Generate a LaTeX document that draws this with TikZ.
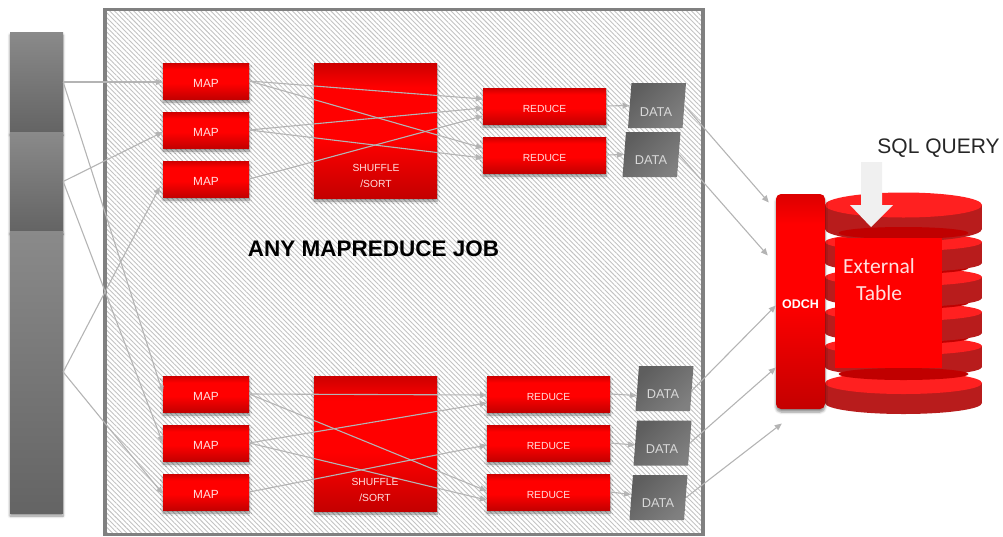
\documentclass[tikz,border=0pt]{standalone}
\usepackage{fontspec}
\setmainfont{Liberation Sans}
\newfontfamily\calfont{Carlito}
\usetikzlibrary{patterns.meta,shapes.geometric,shadows.blur,arrows.meta}
\definecolor{rdark}{HTML}{C40000}
\definecolor{rfull}{HTML}{FF0000}
\definecolor{linegray}{HTML}{B4B4B4}
\definecolor{diskside}{HTML}{B81C1C}
\definecolor{disktop}{HTML}{FF2020}
\definecolor{diskgap}{HTML}{C00000}
\definecolor{bartop}{HTML}{8A8A8A}
\definecolor{barbot}{HTML}{646464}
\pgfdeclareverticalshading{redv}{100bp}{color(0bp)=(rdark); color(25bp)=(rdark); color(47bp)=(rfull); color(66bp)=(rfull); color(75bp)=(rdark!85!rfull); color(100bp)=(rdark!85!rfull)}
\pgfdeclareverticalshading{odchv}{100bp}{color(0bp)=(rdark); color(25bp)=(rdark); color(50bp)=(rfull); color(68bp)=(rfull); color(75bp)=(rdark!60!rfull); color(100bp)=(rdark!60!rfull)}
\tikzset{
  softshadow/.style={blur shadow={shadow xshift=0pt,shadow yshift=-3pt,shadow blur steps=5,shadow blur radius=2.5pt,shadow opacity=45}},
  redbox/.style={rectangle,inner sep=0pt,shading=redv,softshadow},
  mapbox/.style={redbox,minimum width=86pt,minimum height=36pt,text=white!88!red,text height=12pt,text depth=0pt,font=\fontsize{11.8}{12}\selectfont},
  reducebox/.style={redbox,minimum width=123pt,minimum height=36pt,text=white!88!red,text height=12.5pt,text depth=0pt,font=\fontsize{10.3}{12}\selectfont},
  shufflebox/.style={redbox,minimum width=123pt,minimum height=135pt},
  shuffletext/.style={inner sep=0pt,align=center,text=white!88!red,font=\fontsize{10.3}{16}\selectfont},
  barbox/.style={rectangle,inner sep=0pt,minimum width=53pt,top color=bartop,bottom color=barbot,softshadow},
  dataship/.style={trapezium,trapezium left angle=68,trapezium right angle=112,inner sep=0pt,minimum height=45pt,trapezium stretches body=true,minimum width=58pt,left color=black!63,right color=black!50,shading angle=45,font=\fontsize{12.5}{14}\selectfont},
  datatext/.style={inner sep=0pt,text=white!85!black,font=\fontsize{12.8}{14}\selectfont},
  conn/.style={draw=linegray,line width=1.1pt,-{Triangle[length=7pt,width=6pt]}},
}
\newcommand{\drumdisk}[3]{%
  \fill[diskside] (825,#1) rectangle (982,#1+#2);
  \fill[diskside] (903.5,#1+#2) ellipse [x radius=78.5pt,y radius=#3pt];
  \fill[disktop] (903.5,#1) ellipse [x radius=78.5pt,y radius=#3pt];
}
\newcommand{\drumgap}[1]{\fill[diskgap] (903.5,#1) ellipse [x radius=65pt,y radius=6pt];}
\begin{document}
\begin{tikzpicture}[x=1pt,y=-1pt]
\useasboundingbox (0,0) rectangle (1003,536);
% frame
\node[rectangle,inner sep=0pt,minimum width=598pt,minimum height=525pt,draw=black!50,line width=3.5pt,pattern={Lines[angle=-45,distance=3.4pt,line width=0.9pt]},pattern color=black!24] (frame) at (404,272) {};
% left bars
\node[barbox] (src1) at (36.5,82) [minimum height=100pt] {};
\node[barbox] (src2) at (36.5,181.5) [minimum height=99pt] {};
\node[barbox] (src3) at (36.5,372) [minimum height=282pt] {};
% top row
\node[mapbox] (m1) at (206,81) {MAP};
\node[mapbox] (m2) at (206,130) {MAP};
\node[mapbox] (m3) at (206,179) {MAP};
\node[shufflebox] (s1) at (375.5,130.5) {};
\node[reducebox] (r1) at (544.5,106) {REDUCE};
\node[reducebox] (r2) at (544.5,155) {REDUCE};
\node[dataship] (d1) at (657,105.5) {\phantom{DATA}};
\node[dataship] (d2) at (651.5,154.5) {\phantom{DATA}};
% bottom row
\node[mapbox] (m4) at (206,394) {MAP};
\node[mapbox] (m5) at (206,443) {MAP};
\node[mapbox] (m6) at (206,492) {MAP};
\node[shufflebox] (s2) at (375.5,443.5) {};
\node[reducebox] (r3) at (548.5,394) {REDUCE};
\node[reducebox] (r4) at (548.5,443) {REDUCE};
\node[reducebox] (r5) at (548.5,492) {REDUCE};
\node[dataship] (d3) at (664.5,388.5) {\phantom{DATA}};
\node[dataship] (d4) at (662.5,443) {\phantom{DATA}};
\node[dataship] (d5) at (658.5,497.5) {\phantom{DATA}};
% source to map
\draw[conn] (src1.east) -- ([yshift=-1pt]m1.west);
\draw[conn] (src1.east) -- ([yshift=1pt]m4.west);
\draw[conn] (src2.east) -- ([yshift=-2pt]m2.west);
\draw[conn] (src2.east) -- (m5.west);
\draw[conn] (src3.east) -- ([xshift=-3pt,yshift=-8pt]m3.west);
\draw[conn] (src3.east) -- ([yshift=-2pt]m6.west);
% map to reduce (top)
\draw[conn] (m1.east) -- ([yshift=7pt]r1.west);
\draw[conn] (m1.east) -- ([yshift=7pt]r2.west);
\draw[conn] (m2.east) -- ([yshift=-2pt]r1.west);
\draw[conn] (m2.east) -- ([yshift=-3pt]r2.west);
\draw[conn] (m3.east) -- ([yshift=-10pt]r1.west);
% map to reduce (bottom)
\draw[conn] (m4.east) -- ([yshift=-1pt]r3.west);
\draw[conn] (m4.east) -- ([yshift=1pt]r5.west);
\draw[conn] (m5.east) -- ([yshift=-9pt]r3.west);
\draw[conn] (m5.east) -- ([yshift=-8pt]r5.west);
\draw[conn] (m6.east) -- ([yshift=-2pt]r4.west);
% reduce to data
\draw[conn] (r1.east) -- (d1.west);
\draw[conn] (r2.east) -- (d2.west);
\draw[conn] (r3.east) -- ([yshift=-7pt]d3.west);
\draw[conn] (r4.east) -- ([yshift=-2pt]d4.west);
\draw[conn] (r5.east) -- ([yshift=3pt]d5.west);
% texts over lines
\node[shuffletext] (s1t) at (376,175.5) {SHUFFLE\\/SORT};
\node[shuffletext] (s2t) at (375,490) {SHUFFLE\\/SORT};
\node[datatext] (d1t) at (656,112) {DATA};
\node[datatext] (d2t) at (651,160) {DATA};
\node[datatext] (d3t) at (663,394) {DATA};
\node[datatext] (d4t) at (662,449) {DATA};
\node[datatext] (d5t) at (658,503) {DATA};
\node[inner sep=0pt,font=\bfseries\fontsize{22.5}{24}\selectfont] (job) at (373.5,249) {ANY MAPREDUCE JOB};
% drum
\drumdisk{346}{21}{9}
\drumgap{338}
\drumdisk{312}{21}{9}
\drumgap{303}
\drumdisk{277}{21}{9}
\drumgap{268}
\drumdisk{242}{21}{9}
\drumdisk{205}{24}{12.5}
\drumgap{233}
\node[rectangle,fill=rfull,inner sep=0pt,minimum width=107pt,minimum height=130pt] (tbl) at (888.5,303) {};
\drumdisk{383}{20}{11}
\drumgap{374}
\node[inner sep=0pt,text=white!88!red,font=\calfont\fontsize{21.5}{27}\selectfont,align=center] (tblt) at (879,279.5) {External\\[0pt]Table};
% odch
\node[rectangle,rounded corners=5pt,inner sep=0pt,minimum width=49pt,minimum height=215pt,shading=odchv,softshadow,text=white,text height=13pt,text depth=0pt,font=\bfseries\fontsize{12.5}{13}\selectfont] (odch) at (800.5,301.5) {ODCH};
% data to odch
\draw[conn] (d1.east) -- ([xshift=-7pt,yshift=99pt]odch.west);
\draw[conn] (d2.east) -- ([xshift=-8pt,yshift=46pt]odch.west);
\draw[conn] ([yshift=-2pt]d3.east) -- ([yshift=-4pt]odch.west);
\draw[conn] (d4.east) -- ([yshift=-66pt]odch.west);
\draw[conn] (d5.east) -- ([xshift=6pt,yshift=-122pt]odch.west);
% query
\node[inner sep=0pt,text=black!85,font=\fontsize{21}{22}\selectfont] (sql) at (938.5,148) {SQL QUERY};
\fill[black!6] (861,162) -- (882,162) -- (882,205) -- (893,205) -- (871,227) -- (850,205) -- (861,205) -- cycle;
\end{tikzpicture}
\end{document}
